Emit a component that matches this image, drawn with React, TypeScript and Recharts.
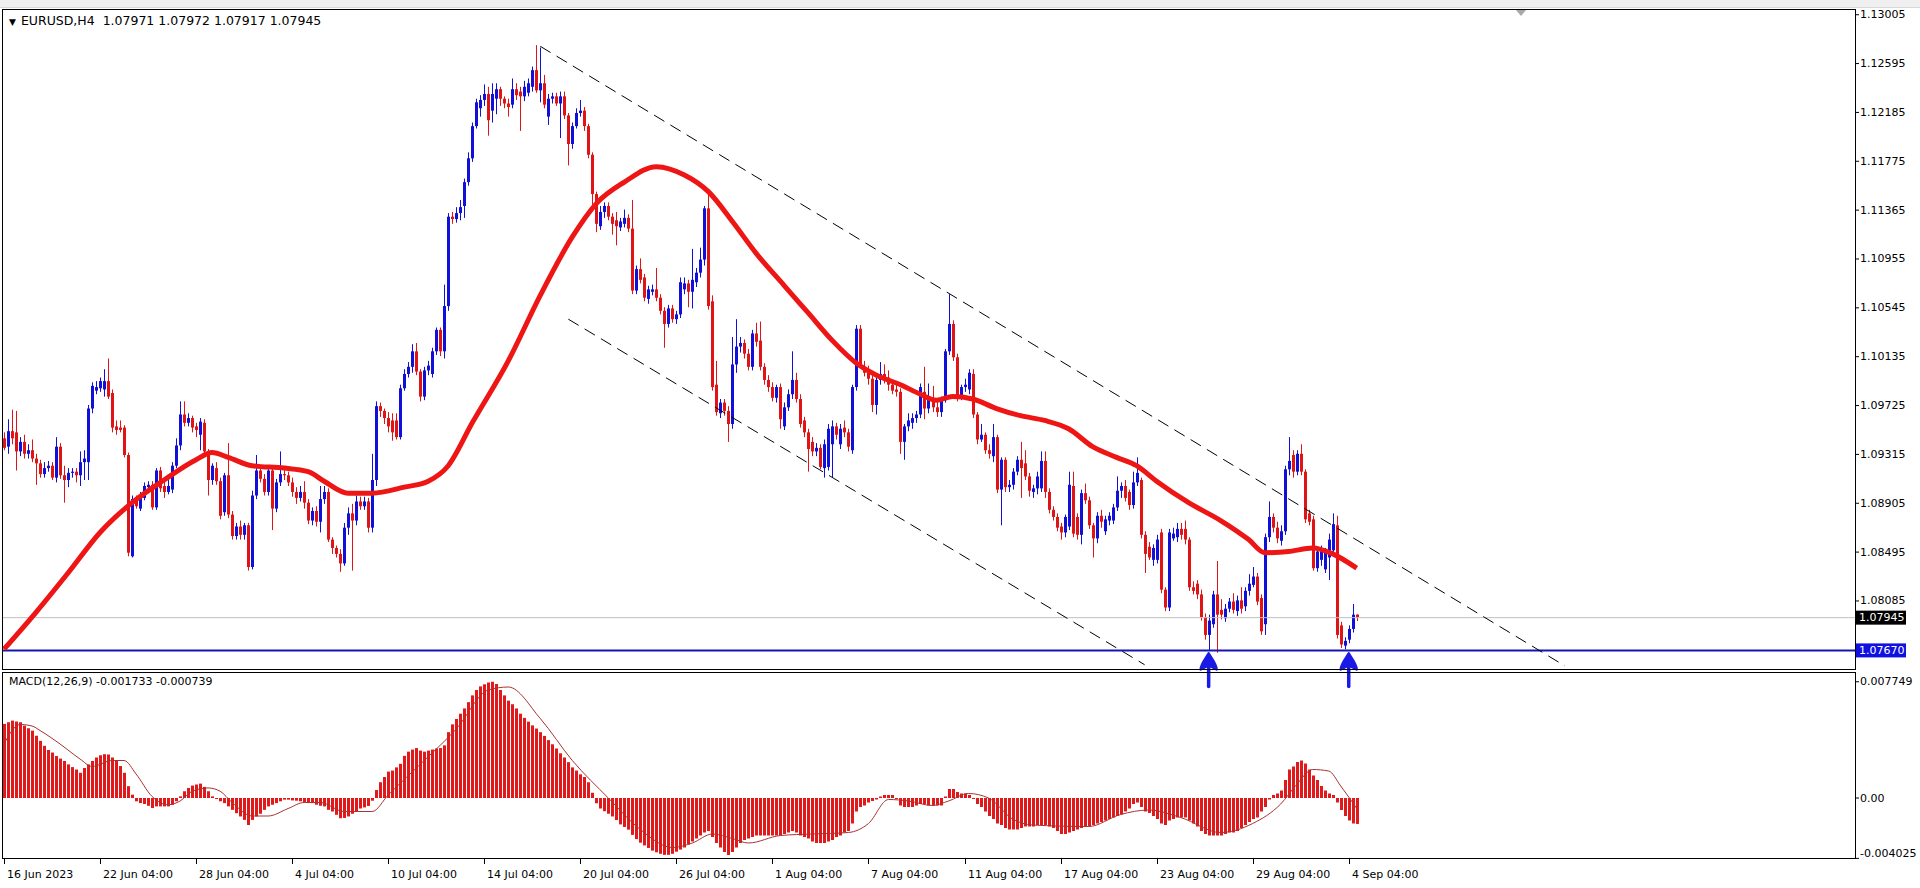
import React from 'react'
import { ComposedChart, Bar, Line, XAxis, YAxis, ReferenceLine, ReferenceDot } from 'recharts'

// EURUSD H4 candles, [open, high, low, close], one per 4h bar from 16 Jun 2023
const ohlc: number[][] = [
  [1.0945, 1.0950, 1.0935, 1.0937], [1.0938, 1.0961, 1.0932, 1.0951], [1.0951, 1.0969, 1.0940, 1.0945], [1.0950, 1.0968, 1.0918, 1.0934],
  [1.0934, 1.0946, 1.0930, 1.0942], [1.0942, 1.0948, 1.0928, 1.0932], [1.0932, 1.0940, 1.0928, 1.0935], [1.0935, 1.0944, 1.0925, 1.0928],
  [1.0928, 1.0932, 1.0906, 1.0924], [1.0924, 1.0927, 1.0912, 1.0915], [1.0915, 1.0925, 1.0912, 1.0920], [1.0920, 1.0926, 1.0917, 1.0922],
  [1.0922, 1.0925, 1.0910, 1.0912], [1.0912, 1.0946, 1.0908, 1.0938], [1.0938, 1.0941, 1.0911, 1.0914], [1.0914, 1.0922, 1.0891, 1.0910],
  [1.0910, 1.0920, 1.0904, 1.0916], [1.0916, 1.0920, 1.0912, 1.0917], [1.0917, 1.0920, 1.0908, 1.0914], [1.0914, 1.0934, 1.0905, 1.0925],
  [1.0925, 1.0935, 1.0910, 1.0928], [1.0925, 1.0973, 1.0910, 1.0970], [1.0970, 1.0992, 1.0966, 1.0989], [1.0985, 1.0993, 1.0982, 1.0988],
  [1.0987, 1.0996, 1.0984, 1.0993], [1.0986, 1.1003, 1.0980, 1.0993], [1.0993, 1.1012, 1.0978, 1.0980], [1.0983, 1.0986, 1.0950, 1.0954],
  [1.0955, 1.0960, 1.0948, 1.0952], [1.0954, 1.0960, 1.0950, 1.0952], [1.0954, 1.0956, 1.0929, 1.0931], [1.0931, 1.0933, 1.0846, 1.0849],
  [1.0846, 1.0897, 1.0845, 1.0894], [1.0894, 1.0897, 1.0886, 1.0888], [1.0886, 1.0900, 1.0884, 1.0896], [1.0895, 1.0908, 1.0893, 1.0905],
  [1.0904, 1.0909, 1.0900, 1.0906], [1.0906, 1.0909, 1.0885, 1.0887], [1.0887, 1.0920, 1.0885, 1.0918], [1.0918, 1.0921, 1.0900, 1.0903],
  [1.0905, 1.0912, 1.0895, 1.0900], [1.0900, 1.0910, 1.0898, 1.0905], [1.0902, 1.0925, 1.0899, 1.0922], [1.0922, 1.0945, 1.0920, 1.0939],
  [1.0939, 1.0976, 1.0935, 1.0965], [1.0965, 1.0976, 1.0955, 1.0958], [1.0958, 1.0966, 1.0955, 1.0962], [1.0962, 1.0964, 1.0950, 1.0954],
  [1.0955, 1.0958, 1.0946, 1.0952], [1.0948, 1.0962, 1.0935, 1.0959], [1.0958, 1.0961, 1.0932, 1.0934], [1.0934, 1.0936, 1.0897, 1.0910],
  [1.0910, 1.0924, 1.0906, 1.0922], [1.0920, 1.0925, 1.0906, 1.0909], [1.0909, 1.0912, 1.0877, 1.0880], [1.0883, 1.0916, 1.0880, 1.0914],
  [1.0914, 1.0941, 1.0878, 1.0881], [1.0881, 1.0884, 1.0860, 1.0863], [1.0863, 1.0874, 1.0860, 1.0871], [1.0871, 1.0876, 1.0860, 1.0864],
  [1.0864, 1.0874, 1.0860, 1.0872], [1.0872, 1.0874, 1.0834, 1.0837], [1.0837, 1.0901, 1.0835, 1.0897], [1.0897, 1.0931, 1.0894, 1.0918],
  [1.0918, 1.0920, 1.0908, 1.0911], [1.0911, 1.0915, 1.0897, 1.0900], [1.0900, 1.0921, 1.0897, 1.0918], [1.0918, 1.0920, 1.0868, 1.0886],
  [1.0886, 1.0911, 1.0883, 1.0908], [1.0908, 1.0934, 1.0905, 1.0915], [1.0915, 1.0920, 1.0910, 1.0914], [1.0914, 1.0917, 1.0905, 1.0908],
  [1.0908, 1.0912, 1.0896, 1.0900], [1.0900, 1.0904, 1.0890, 1.0895], [1.0895, 1.0905, 1.0892, 1.0900], [1.0900, 1.0909, 1.0886, 1.0891],
  [1.0891, 1.0894, 1.0873, 1.0876], [1.0876, 1.0887, 1.0872, 1.0884], [1.0884, 1.0888, 1.0871, 1.0875], [1.0875, 1.0905, 1.0866, 1.0894],
  [1.0894, 1.0905, 1.0890, 1.0900], [1.0900, 1.0903, 1.0858, 1.0860], [1.0860, 1.0862, 1.0848, 1.0853], [1.0853, 1.0855, 1.0845, 1.0848],
  [1.0848, 1.0852, 1.0833, 1.0840], [1.0840, 1.0874, 1.0838, 1.0870], [1.0870, 1.0887, 1.0864, 1.0882], [1.0882, 1.0890, 1.0834, 1.0876],
  [1.0876, 1.0897, 1.0872, 1.0892], [1.0892, 1.0896, 1.0885, 1.0888], [1.0888, 1.0896, 1.0885, 1.0892], [1.0892, 1.0895, 1.0866, 1.0870],
  [1.0870, 1.0932, 1.0866, 1.0910], [1.0910, 1.0976, 1.0905, 1.0972], [1.0972, 1.0975, 1.0963, 1.0968], [1.0968, 1.0970, 1.0957, 1.0962],
  [1.0962, 1.0967, 1.0950, 1.0955], [1.0960, 1.0966, 1.0943, 1.0950], [1.0960, 1.0966, 1.0944, 1.0946], [1.0946, 1.0990, 1.0944, 1.0987],
  [1.0987, 1.1003, 1.0985, 1.0999], [1.0999, 1.1009, 1.0996, 1.1005], [1.1005, 1.1024, 1.1000, 1.1018], [1.1018, 1.1025, 1.0998, 1.1001],
  [1.1001, 1.1003, 1.0976, 1.0980], [1.0980, 1.1005, 1.0977, 1.1002], [1.1002, 1.1010, 1.0998, 1.1006], [1.0999, 1.1021, 1.0996, 1.1018],
  [1.1018, 1.1038, 1.1015, 1.1036], [1.1036, 1.1038, 1.1014, 1.1018], [1.1018, 1.1074, 1.1012, 1.1056], [1.1056, 1.1134, 1.1052, 1.1131],
  [1.1131, 1.1135, 1.1125, 1.1129], [1.1129, 1.1139, 1.1126, 1.1134], [1.1134, 1.1145, 1.1128, 1.1139], [1.1140, 1.1163, 1.1130, 1.1160],
  [1.1160, 1.1185, 1.1157, 1.1180], [1.1180, 1.1210, 1.1177, 1.1207], [1.1207, 1.1230, 1.1205, 1.1227], [1.1222, 1.1233, 1.1215, 1.1229],
  [1.1229, 1.1242, 1.1224, 1.1234], [1.1234, 1.1240, 1.1199, 1.1212], [1.1220, 1.1243, 1.1210, 1.1234], [1.1230, 1.1243, 1.1217, 1.1238],
  [1.1238, 1.1240, 1.1224, 1.1230], [1.1230, 1.1232, 1.1222, 1.1226], [1.1226, 1.1230, 1.1215, 1.1223], [1.1225, 1.1247, 1.1222, 1.1238],
  [1.1238, 1.1243, 1.1229, 1.1233], [1.1236, 1.1240, 1.1203, 1.1232], [1.1232, 1.1245, 1.1228, 1.1240], [1.1235, 1.1247, 1.1232, 1.1243],
  [1.1240, 1.1257, 1.1236, 1.1254], [1.1254, 1.1275, 1.1235, 1.1237], [1.1237, 1.1273, 1.1227, 1.1243], [1.1243, 1.1250, 1.1222, 1.1225],
  [1.1215, 1.1234, 1.1208, 1.1230], [1.1230, 1.1235, 1.1226, 1.1232], [1.1232, 1.1235, 1.1224, 1.1226], [1.1226, 1.1236, 1.1197, 1.1232],
  [1.1232, 1.1236, 1.1213, 1.1216], [1.1216, 1.1218, 1.1174, 1.1192], [1.1192, 1.1210, 1.1188, 1.1207], [1.1207, 1.1222, 1.1205, 1.1218],
  [1.1218, 1.1229, 1.1215, 1.1220], [1.1220, 1.1223, 1.1203, 1.1207], [1.1207, 1.1209, 1.1180, 1.1183], [1.1183, 1.1185, 1.1141, 1.1150],
  [1.1150, 1.1152, 1.1118, 1.1125], [1.1123, 1.1140, 1.1120, 1.1135], [1.1135, 1.1143, 1.1130, 1.1140], [1.1140, 1.1143, 1.1128, 1.1131],
  [1.1131, 1.1134, 1.1116, 1.1125], [1.1128, 1.1135, 1.1107, 1.1123], [1.1122, 1.1130, 1.1119, 1.1127], [1.1125, 1.1137, 1.1122, 1.1130],
  [1.1130, 1.1133, 1.1118, 1.1121], [1.1121, 1.1145, 1.1066, 1.1069], [1.1069, 1.1090, 1.1066, 1.1087], [1.1087, 1.1096, 1.1075, 1.1078],
  [1.1080, 1.1083, 1.1060, 1.1063], [1.1062, 1.1073, 1.1058, 1.1070], [1.1068, 1.1074, 1.1065, 1.1070], [1.1070, 1.1088, 1.1060, 1.1063],
  [1.1063, 1.1066, 1.1049, 1.1052], [1.1052, 1.1055, 1.1021, 1.1041], [1.1041, 1.1057, 1.1038, 1.1054], [1.1054, 1.1057, 1.1042, 1.1045],
  [1.1045, 1.1052, 1.1041, 1.1049], [1.1049, 1.1080, 1.1046, 1.1076], [1.1070, 1.1080, 1.1066, 1.1075], [1.1075, 1.1078, 1.1055, 1.1068],
  [1.1068, 1.1104, 1.1054, 1.1078], [1.1076, 1.1088, 1.1072, 1.1084], [1.1084, 1.1105, 1.1080, 1.1095], [1.1095, 1.1140, 1.1090, 1.1138],
  [1.1138, 1.1150, 1.1053, 1.1056], [1.1060, 1.1065, 1.0985, 1.0988], [1.0990, 1.1010, 1.0964, 1.0967], [1.0966, 1.0978, 1.0962, 1.0975],
  [1.0975, 1.0978, 1.0964, 1.0968], [1.0968, 1.0972, 1.0942, 1.0957], [1.0957, 1.1030, 1.0953, 1.1007], [1.1007, 1.1045, 1.1000, 1.1022],
  [1.1022, 1.1030, 1.1017, 1.1025], [1.1025, 1.1028, 1.1012, 1.1016], [1.1016, 1.1020, 1.1002, 1.1005], [1.1005, 1.1036, 1.1002, 1.1033],
  [1.1033, 1.1042, 1.1022, 1.1026], [1.1027, 1.1043, 1.1002, 1.1005], [1.1005, 1.1008, 1.0990, 1.0994], [1.0994, 1.0998, 1.0984, 1.0988],
  [1.0988, 1.0992, 1.0976, 1.0979], [1.0979, 1.0990, 1.0975, 1.0988], [1.0988, 1.0991, 1.0953, 1.0961], [1.0955, 1.0975, 1.0952, 1.0971],
  [1.0971, 1.0986, 1.0968, 1.0982], [1.0982, 1.1018, 1.0978, 1.0994], [1.0994, 1.1000, 1.0975, 1.0978], [1.0978, 1.0982, 1.0954, 1.0957],
  [1.0960, 1.0963, 1.0946, 1.0950], [1.0950, 1.0953, 1.0917, 1.0936], [1.0942, 1.0946, 1.0930, 1.0934], [1.0934, 1.0941, 1.0930, 1.0937],
  [1.0937, 1.0940, 1.0919, 1.0921], [1.0920, 1.0944, 1.0912, 1.0940], [1.0921, 1.0957, 1.0918, 1.0953], [1.0940, 1.0960, 1.0912, 1.0955],
  [1.0955, 1.0958, 1.0944, 1.0948], [1.0940, 1.0957, 1.0936, 1.0953], [1.0954, 1.0960, 1.0946, 1.0950], [1.0950, 1.0953, 1.0934, 1.0938],
  [1.0935, 1.0990, 1.0932, 1.0988], [1.0988, 1.1040, 1.0985, 1.1037], [1.1037, 1.1040, 1.1004, 1.1007], [1.1005, 1.1010, 1.0997, 1.1000],
  [1.1001, 1.1006, 1.0990, 1.0995], [1.0995, 1.0998, 1.0967, 1.0973], [1.0973, 1.0997, 1.0965, 1.0994], [1.0994, 1.1009, 1.0990, 1.0999],
  [1.0999, 1.1007, 1.0991, 1.0996], [1.0996, 1.1002, 1.0985, 1.0990], [1.0990, 1.0993, 1.0982, 1.0985], [1.0986, 1.0990, 1.0980, 1.0984],
  [1.0984, 1.0987, 1.0932, 1.0942], [1.0942, 1.0957, 1.0927, 1.0955], [1.0955, 1.0966, 1.0951, 1.0960], [1.0958, 1.0966, 1.0953, 1.0962],
  [1.0962, 1.0968, 1.0958, 1.0965], [1.0965, 1.0991, 1.0962, 1.0988], [1.0984, 1.1005, 1.0961, 1.0970], [1.0970, 1.0991, 1.0966, 1.0978],
  [1.0978, 1.0989, 1.0967, 1.0971], [1.0971, 1.0976, 1.0963, 1.0967], [1.0967, 1.0980, 1.0963, 1.0977], [1.0977, 1.1020, 1.0975, 1.1018],
  [1.1018, 1.1066, 1.1015, 1.1041], [1.1041, 1.1044, 1.1010, 1.1013], [1.1013, 1.1016, 1.0976, 1.0980], [1.0980, 1.0990, 1.0977, 1.0988],
  [1.0988, 1.0995, 1.0984, 1.0990], [1.0986, 1.1003, 1.0982, 1.1000], [1.0999, 1.1003, 1.0962, 1.0965], [1.0965, 1.0967, 1.0940, 1.0944],
  [1.0944, 1.0957, 1.0942, 1.0948], [1.0948, 1.0950, 1.0932, 1.0935], [1.0935, 1.0940, 1.0928, 1.0932], [1.0930, 1.0957, 1.0925, 1.0946],
  [1.0946, 1.0948, 1.0899, 1.0902], [1.0902, 1.0929, 1.0872, 1.0927], [1.0927, 1.0929, 1.0900, 1.0904], [1.0904, 1.0910, 1.0900, 1.0906],
  [1.0906, 1.0920, 1.0902, 1.0917], [1.0917, 1.0930, 1.0914, 1.0927], [1.0927, 1.0942, 1.0895, 1.0920], [1.0924, 1.0935, 1.0910, 1.0913],
  [1.0913, 1.0916, 1.0896, 1.0901], [1.0900, 1.0906, 1.0895, 1.0903], [1.0903, 1.0917, 1.0898, 1.0913], [1.0903, 1.0934, 1.0900, 1.0926],
  [1.0926, 1.0934, 1.0895, 1.0900], [1.0900, 1.0903, 1.0882, 1.0885], [1.0885, 1.0888, 1.0876, 1.0879], [1.0879, 1.0882, 1.0867, 1.0870],
  [1.0871, 1.0874, 1.0860, 1.0866], [1.0866, 1.0881, 1.0862, 1.0879], [1.0871, 1.0917, 1.0868, 1.0906], [1.0905, 1.0917, 1.0862, 1.0865],
  [1.0879, 1.0882, 1.0860, 1.0864], [1.0864, 1.0902, 1.0856, 1.0899], [1.0899, 1.0907, 1.0890, 1.0893], [1.0893, 1.0896, 1.0869, 1.0872],
  [1.0872, 1.0874, 1.0845, 1.0861], [1.0861, 1.0883, 1.0857, 1.0880], [1.0880, 1.0885, 1.0870, 1.0875], [1.0867, 1.0880, 1.0864, 1.0877],
  [1.0876, 1.0883, 1.0872, 1.0880], [1.0876, 1.0890, 1.0873, 1.0887], [1.0887, 1.0913, 1.0884, 1.0901], [1.0901, 1.0908, 1.0895, 1.0905],
  [1.0905, 1.0910, 1.0892, 1.0895], [1.0900, 1.0902, 1.0885, 1.0889], [1.0889, 1.0917, 1.0886, 1.0908], [1.0908, 1.0929, 1.0905, 1.0916],
  [1.0910, 1.0912, 1.0861, 1.0864], [1.0864, 1.0867, 1.0832, 1.0848], [1.0854, 1.0858, 1.0843, 1.0845], [1.0843, 1.0856, 1.0838, 1.0853],
  [1.0843, 1.0864, 1.0840, 1.0860], [1.0866, 1.0869, 1.0815, 1.0818], [1.0818, 1.0820, 1.0800, 1.0803], [1.0803, 1.0869, 1.0800, 1.0866],
  [1.0861, 1.0870, 1.0859, 1.0865], [1.0862, 1.0874, 1.0858, 1.0869], [1.0869, 1.0874, 1.0860, 1.0864], [1.0869, 1.0876, 1.0856, 1.0860],
  [1.0860, 1.0862, 1.0817, 1.0820], [1.0820, 1.0825, 1.0814, 1.0817], [1.0823, 1.0826, 1.0810, 1.0814], [1.0814, 1.0818, 1.0792, 1.0795],
  [1.0795, 1.0798, 1.0776, 1.0780], [1.0780, 1.0797, 1.0767, 1.0792], [1.0789, 1.0817, 1.0786, 1.0814], [1.0814, 1.0842, 1.0765, 1.0797],
  [1.0801, 1.0810, 1.0793, 1.0797], [1.0794, 1.0806, 1.0791, 1.0802], [1.0802, 1.0811, 1.0799, 1.0808], [1.0808, 1.0815, 1.0798, 1.0801],
  [1.0800, 1.0813, 1.0796, 1.0809], [1.0809, 1.0820, 1.0798, 1.0802], [1.0804, 1.0820, 1.0800, 1.0817], [1.0817, 1.0831, 1.0813, 1.0823],
  [1.0822, 1.0837, 1.0820, 1.0829], [1.0829, 1.0832, 1.0805, 1.0808], [1.0811, 1.0814, 1.0780, 1.0783], [1.0789, 1.0865, 1.0780, 1.0862],
  [1.0862, 1.0892, 1.0858, 1.0879], [1.0879, 1.0882, 1.0866, 1.0870], [1.0870, 1.0875, 1.0857, 1.0861], [1.0859, 1.0872, 1.0855, 1.0867],
  [1.0867, 1.0922, 1.0864, 1.0919], [1.0919, 1.0946, 1.0914, 1.0926], [1.0931, 1.0935, 1.0912, 1.0917], [1.0917, 1.0935, 1.0914, 1.0932],
  [1.0932, 1.0940, 1.0914, 1.0917], [1.0917, 1.0919, 1.0874, 1.0877], [1.0882, 1.0885, 1.0872, 1.0875], [1.0877, 1.0880, 1.0834, 1.0836],
  [1.0836, 1.0853, 1.0833, 1.0850], [1.0843, 1.0855, 1.0838, 1.0852], [1.0835, 1.0853, 1.0832, 1.0851], [1.0845, 1.0865, 1.0826, 1.0860],
  [1.0851, 1.0882, 1.0848, 1.0873], [1.0872, 1.0880, 1.0777, 1.0780], [1.0788, 1.0791, 1.0769, 1.0772], [1.0771, 1.0778, 1.0768, 1.0775],
  [1.0776, 1.0788, 1.0773, 1.0785], [1.0785, 1.0806, 1.0782, 1.0797], [1.07971, 1.07972, 1.07917, 1.07945],
]

// moving average, read at a few bars, [bar, value]
const maPoints: [number, number][] = [
  [0, 1.0768], [8, 1.0799], [16, 1.0832], [24, 1.0866], [32, 1.0891], [40, 1.091], [48, 1.0927], [52, 1.0933],
  [56, 1.0929], [62, 1.0922], [70, 1.092], [76, 1.0917], [80, 1.0909], [86, 1.0899], [92, 1.0899], [100, 1.0904],
  [106, 1.0909], [111, 1.0922], [117, 1.0958], [126, 1.101], [134, 1.1065], [142, 1.1114], [148, 1.1142], [155, 1.116],
  [163, 1.1173], [170, 1.1166], [176, 1.1152], [182, 1.1127], [188, 1.11], [195, 1.1073], [201, 1.105], [207, 1.1027],
  [213, 1.1008], [218, 1.0998], [224, 1.099], [229, 1.0982], [233, 1.0977], [237, 1.098], [242, 1.0978], [248, 1.097],
  [254, 1.0964], [260, 1.096], [266, 1.0953], [272, 1.0938], [278, 1.0929], [283, 1.0922], [288, 1.0909], [296, 1.0891],
  [304, 1.0876], [311, 1.086], [315, 1.0849], [321, 1.085], [327, 1.0853], [332, 1.0848], [338, 1.0836],
]

// MACD(12,26,9) main values, one per bar
const macdHist = [
  0.00494, 0.00505, 0.00516, 0.0051, 0.00505, 0.00482, 0.00465, 0.00449, 0.00415, 0.00381,
  0.00348, 0.0032, 0.00303, 0.0028, 0.00263, 0.00247, 0.00224, 0.00206, 0.0019, 0.00168,
  0.002, 0.00224, 0.00247, 0.0027, 0.00285, 0.00292, 0.0029, 0.0027, 0.00247, 0.00213,
  0.00168, 0.00079, 0.00022, -0.00022, -0.00034, -0.0004, -0.00052, -0.00067, -0.00056, -0.00056,
  -0.00056, -0.00056, -0.00045, -0.00022, 0.00011, 0.00045, 0.00067, 0.00083, 0.0009, 0.00096,
  0.00074, 0.00045, 0.00011, 0, -0.00022, -0.00034, -0.00056, -0.00079, -0.00101, -0.00123,
  -0.00146, -0.0018, -0.00146, -0.00123, -0.00105, -0.00079, -0.00056, -0.00045, -0.00034, -0.00022,
  -0.00011, -0.00011, -0.00016, -0.00018, -0.00022, -0.00027, -0.00034, -0.00034, -0.00045, -0.00052,
  -0.00056, -0.00079, -0.0009, -0.00112, -0.00135, -0.00133, -0.00123, -0.00105, -0.00088, -0.0007,
  -0.00063, -0.00053, -0.00018, 0.00053, 0.00105, 0.0014, 0.00176, 0.00183, 0.00204, 0.00228,
  0.00281, 0.00309, 0.00323, 0.00333, 0.00316, 0.00309, 0.00316, 0.00323, 0.0033, 0.00333,
  0.00351, 0.00439, 0.00491, 0.00527, 0.00562, 0.00597, 0.00639, 0.00684, 0.0072, 0.00744,
  0.00758, 0.0077, 0.00775, 0.0076, 0.0072, 0.00684, 0.00649, 0.00625, 0.00597, 0.00562,
  0.00534, 0.00509, 0.00484, 0.00463, 0.00439, 0.00414, 0.00386, 0.00358, 0.0033, 0.00298,
  0.0027, 0.00239, 0.00204, 0.00183, 0.00158, 0.0014, 0.00105, 0.00035, -0.00035, -0.0007,
  -0.00088, -0.00105, -0.00123, -0.00147, -0.00176, -0.00193, -0.00211, -0.00246, -0.00274, -0.00298,
  -0.00316, -0.00333, -0.00351, -0.00362, -0.00372, -0.00379, -0.00379, -0.00372, -0.00358, -0.00344,
  -0.0033, -0.0031, -0.0029, -0.0027, -0.0025, -0.0023, -0.0022, -0.0026, -0.003, -0.0033,
  -0.0036, -0.0038, -0.0036, -0.0033, -0.003, -0.0028, -0.0027, -0.0026, -0.0025, -0.0025,
  -0.0025, -0.0025, -0.0025, -0.0025, -0.0025, -0.0024, -0.0023, -0.0022, -0.0023, -0.0025,
  -0.0026, -0.0027, -0.0029, -0.003, -0.003, -0.003, -0.0029, -0.0028, -0.0026, -0.0025,
  -0.0023, -0.0022, -0.0017, -0.0009, -0.0006, -0.0005, -0.0003, -0.0002, -0.0001, 0.0001,
  0.0002, 0.0002, 0.0002, 0, -0.0005, -0.0006, -0.0006, -0.0006, -0.0005, -0.0004,
  -0.0004, -0.0005, -0.0005, -0.0005, -0.0005, 0.0001, 0.0006, 0.0006, 0.0004, 0.0003,
  0.0003, 0.0002, 0, -0.0004, -0.0006, -0.0009, -0.0012, -0.0014, -0.0017, -0.0018,
  -0.002, -0.0021, -0.0021, -0.0021, -0.002, -0.0019, -0.0019, -0.0019, -0.0018, -0.0018,
  -0.0018, -0.0019, -0.002, -0.0022, -0.0024, -0.0024, -0.0023, -0.0022, -0.0021, -0.002,
  -0.0019, -0.0019, -0.0018, -0.0017, -0.0016, -0.0015, -0.0014, -0.0013, -0.0012, -0.0011,
  -0.0009, -0.0007, -0.0004, -0.0003, -0.0006, -0.0009, -0.001, -0.0012, -0.0014, -0.0017,
  -0.0018, -0.0015, -0.0014, -0.0013, -0.0013, -0.0013, -0.0015, -0.0017, -0.0019, -0.0022,
  -0.0024, -0.0025, -0.0025, -0.0025, -0.0025, -0.0024, -0.0023, -0.0023, -0.0022, -0.002,
  -0.0018, -0.0016, -0.0014, -0.0013, -0.0009, -0.0006, -0.0001, 0.0002, 0.0003, 0.0005,
  0.0012, 0.0019, 0.0021, 0.0024, 0.0025, 0.0023, 0.0019, 0.0015, 0.0012, 0.0008,
  0.0005, 0.0003, 0.0002, -0.0003, -0.0008, -0.0012, -0.0015, -0.0017, -0.00173,
]

// MACD signal line, read at a few bars
const signalPoints: [number, number][] = [
  [0, 0.0036], [4, 0.0049], [7, 0.0048], [9, 0.0045], [14, 0.0036], [19, 0.0026], [22, 0.0021], [27, 0.0025],
  [30, 0.0025], [33, 0.0016], [37, 0.0001], [41, -0.00045], [44, -0.0002], [47, 0.00045], [51, 0.00067], [54, 0.00045],
  [57, -0.0003], [62, -0.0012], [66, -0.0012], [71, -0.0007], [75, -0.0003], [79, -0.0003], [85, -0.0009], [92, -0.0009],
  [96, 0.0002], [105, 0.0025], [113, 0.0046], [121, 0.0072], [126, 0.0074], [134, 0.0053], [142, 0.0025], [151, 0],
  [159, -0.0021], [167, -0.0033], [172, -0.003], [177, -0.0024], [182, -0.0027], [186, -0.003], [194, -0.0025], [202, -0.0024],
  [211, -0.0023], [216, -0.0017], [221, -0.0001], [226, -0.0002], [232, -0.0005], [236, -0.0002], [241, 0.0003], [246, 0],
  [252, -0.0014], [257, -0.0018], [271, -0.0019], [279, -0.0011], [286, -0.0008], [294, -0.0013], [304, -0.0023], [312, -0.0017],
  [319, -0.0004], [323, 0.0009], [327, 0.0019], [331, 0.0018], [334, 0.0008], [338, -0.0007],
]

const priceTicks = [1.13005, 1.12595, 1.12185, 1.11775, 1.11365, 1.10955, 1.10545, 1.10135, 1.09725, 1.09315, 1.08905, 1.08495, 1.08085]
const bidPrice = 1.07945
const levelPrice = 1.0767
const macdTicks = [0.007749, 0, -0.004025]
const macdTickText = ['0.007749', '0.00', '-0.004025']

const dateLabels: [number, string][] = [
  [0, '16 Jun 2023'], [24, '22 Jun 04:00'], [48, '28 Jun 04:00'], [72, '4 Jul 04:00'], [96, '10 Jul 04:00'],
  [120, '14 Jul 04:00'], [144, '20 Jul 04:00'], [168, '26 Jul 04:00'], [192, '1 Aug 04:00'], [216, '7 Aug 04:00'],
  [240, '11 Aug 04:00'], [264, '17 Aug 04:00'], [288, '23 Aug 04:00'], [312, '29 Aug 04:00'], [336, '4 Sep 04:00'],
]

// channel lines, [bar, price] end points
const channelUpper = [[134, 1.1274], [390, 1.0754]]
const channelLower = [[141, 1.1045], [285, 1.0755]]
const arrowBars = [301, 336]

const SLOTS = 463 // bars plus the empty chart shift on the right
const AXIS_X = 1855
const FONT = "'DejaVu Sans', 'Liberation Sans', sans-serif"
const BLUE = '#1010d8'
const RED = '#e01414'

const maMap = new Map(maPoints)
const sigMap = new Map(signalPoints)
const data = Array.from({ length: SLOTS }, (_, i) => {
  const k = ohlc[i]
  if (!k) return { i }
  return { i, o: k[0], h: k[1], l: k[2], c: k[3], ma: maMap.get(i) ?? null, macd: macdHist[i], sig: sigMap.get(i) ?? null }
})

const Candle = (props: any) => {
  const { x, y, width, height, payload } = props
  if (!payload || payload.h == null) return null
  const top = Math.min(y, y + height)
  const h = Math.abs(height)
  const span = payload.h - payload.l
  const py = (p: number) => (span > 0 ? top + ((payload.h - p) / span) * h : top)
  const color = payload.c >= payload.o ? BLUE : RED
  const cx = Math.round(x + width / 2)
  const yo = py(payload.o)
  const yc = py(payload.c)
  return (
    <g>
      <rect x={cx} y={top} width={1} height={Math.max(h, 1)} fill={color} />
      <rect x={cx - 1} y={Math.min(yo, yc)} width={3} height={Math.max(1, Math.abs(yo - yc))} fill={color} />
    </g>
  )
}

const MacdBar = (props: any) => {
  const { x, y, width, height } = props
  if (height == null || isNaN(height)) return null
  const cx = Math.round(x + width / 2)
  return <rect x={cx - 1} y={Math.min(y, y + height)} width={3} height={Math.max(1, Math.abs(height))} fill="#e01a1a" />
}

const PriceTick = ({ y, payload }: any) => {
  const v = payload.value as number
  const text = v.toFixed(5)
  if (v === bidPrice || v === levelPrice) {
    return (
      <g>
        <rect x={AXIS_X + 1} y={y - 7} width={50} height={14} fill={v === bidPrice ? '#000' : '#1010e0'} />
        <text x={AXIS_X + 4} y={y} fill="#fff" fontSize={11} fontFamily={FONT} dominantBaseline="central">{text}</text>
      </g>
    )
  }
  return (
    <g>
      <line x1={AXIS_X} x2={AXIS_X + 4} y1={y} y2={y} stroke="#000" />
      <text x={AXIS_X + 5} y={y} fill="#000" fontSize={11} fontFamily={FONT} dominantBaseline="central">{text}</text>
    </g>
  )
}

const MacdTick = ({ y, payload }: any) => {
  const idx = macdTicks.indexOf(payload.value)
  const ty = Math.min(y, 181)
  return (
    <g>
      <line x1={AXIS_X} x2={AXIS_X + 4} y1={y} y2={y} stroke="#000" />
      <text x={AXIS_X + 5} y={ty} fill="#000" fontSize={11} fontFamily={FONT} dominantBaseline="central">{macdTickText[idx]}</text>
    </g>
  )
}

const DateTick = ({ x, y, payload }: any) => {
  const item = dateLabels.find((d) => d[0] === payload.value)
  if (!item) return null
  const tx = Math.round(x)
  return (
    <g>
      <line x1={tx + 0.5} x2={tx + 0.5} y1={y} y2={y + 6} stroke="#000" />
      <text x={tx + 3} y={y + 16} fill="#000" fontSize={11} fontFamily={FONT} dominantBaseline="central">{item[1]}</text>
    </g>
  )
}

// hand-drawn style up arrow under the support line
const Arrow = ({ cx, cy }: any) => (
  <g>
    <line x1={cx} x2={cx} y1={cy + 10} y2={cy + 36} stroke="#1a1ae6" strokeWidth={3.5} strokeLinecap="round" />
    <path
      d={`M${cx} ${cy + 3} C${cx - 3} ${cy + 8} ${cx - 8} ${cy + 14} ${cx - 8} ${cy + 19} L${cx} ${cy + 15} L${cx + 8} ${cy + 19} C${cx + 8} ${cy + 14} ${cx + 3} ${cy + 8} ${cx} ${cy + 3} Z`}
      fill="#1a1ae6"
      stroke="#1a1ae6"
      strokeWidth={2.5}
      strokeLinejoin="round"
    />
  </g>
)

export default function App() {
  return (
    <div style={{ position: 'absolute', left: 0, top: 0, width: 1920, height: 888, background: '#fff', overflow: 'hidden', fontFamily: FONT }}>
      <style>{'.recharts-surface{overflow:visible}'}</style>
      <div style={{ position: 'absolute', left: 0, top: 0, width: 1920, height: 7, background: '#f0f0f0', borderBottom: '1px solid #d8d8d8' }} />

      <div style={{ position: 'absolute', left: 0, top: 672 }}>
        <ComposedChart width={1920} height={216} data={data} margin={{ top: 0, right: 0, bottom: 0, left: 2 }} barCategoryGap={0}>
          <XAxis dataKey="i" type="category" ticks={dateLabels.map((d) => d[0])} interval={0} tick={<DateTick />} tickLine={false} axisLine={false} tickSize={0} tickMargin={0} height={30} />
          <YAxis orientation="right" width={65} domain={[-0.004, 0.0084]} ticks={macdTicks} interval={0} tick={<MacdTick />} axisLine={false} tickLine={false} allowDataOverflow />
          <Bar dataKey="macd" shape={<MacdBar />} isAnimationActive={false} />
          <Line dataKey="sig" stroke="#a83232" strokeWidth={1} dot={false} connectNulls type="monotone" isAnimationActive={false} />
        </ComposedChart>
      </div>

      <div style={{ position: 'absolute', left: 0, top: 9 }}>
        <ComposedChart width={1920} height={660} data={data} margin={{ top: 0, right: 0, bottom: 0, left: 2 }} barCategoryGap={0}>
          <XAxis dataKey="i" type="category" hide />
          <YAxis orientation="right" width={65} domain={[1.07514, 1.13053]} ticks={[...priceTicks, bidPrice, levelPrice]} interval={0} tick={<PriceTick />} axisLine={false} tickLine={false} allowDataOverflow />
          <ReferenceLine y={bidPrice} stroke="#c0c0c0" strokeWidth={1} />
          <ReferenceLine y={levelPrice} stroke="#1515b0" strokeWidth={2} />
          <ReferenceLine segment={channelUpper.map(([x, y]) => ({ x, y }))} stroke="#000" strokeDasharray="12 7" ifOverflow="hidden" />
          <ReferenceLine segment={channelLower.map(([x, y]) => ({ x, y }))} stroke="#000" strokeDasharray="12 7" ifOverflow="hidden" />
          <Bar dataKey={(d: any) => (d.h != null ? [d.l, d.h] : null)} shape={<Candle />} isAnimationActive={false} />
          <Line dataKey="ma" stroke="#ee1515" strokeWidth={5} dot={false} connectNulls type="monotone" isAnimationActive={false} />
          {arrowBars.map((b) => (
            <ReferenceDot key={b} x={b} y={levelPrice} ifOverflow="visible" shape={(p: any) => <Arrow cx={p.cx} cy={p.cy} />} />
          ))}
        </ComposedChart>
      </div>

      <div style={{ position: 'absolute', left: 2, top: 9, width: 1854, height: 661, border: '1px solid #000', boxSizing: 'border-box', pointerEvents: 'none' }} />
      <div style={{ position: 'absolute', left: 2, top: 672, width: 1854, height: 187, border: '1px solid #000', boxSizing: 'border-box', pointerEvents: 'none' }} />
      <div style={{ position: 'absolute', left: 1516, top: 10, width: 0, height: 0, borderLeft: '5px solid transparent', borderRight: '5px solid transparent', borderTop: '6px solid #a8a8a8' }} />

      <div style={{ position: 'absolute', left: 9, top: 13, fontSize: 12.5, lineHeight: '16px', color: '#000', whiteSpace: 'pre' }}>
        <span style={{ fontSize: 9, marginRight: 5 }}>▼</span>EURUSD,H4  1.07971 1.07972 1.07917 1.07945
      </div>
      <div style={{ position: 'absolute', left: 9, top: 675, fontSize: 11, lineHeight: '14px', color: '#000', whiteSpace: 'pre' }}>
        MACD(12,26,9) -0.001733 -0.000739
      </div>
    </div>
  )
}
